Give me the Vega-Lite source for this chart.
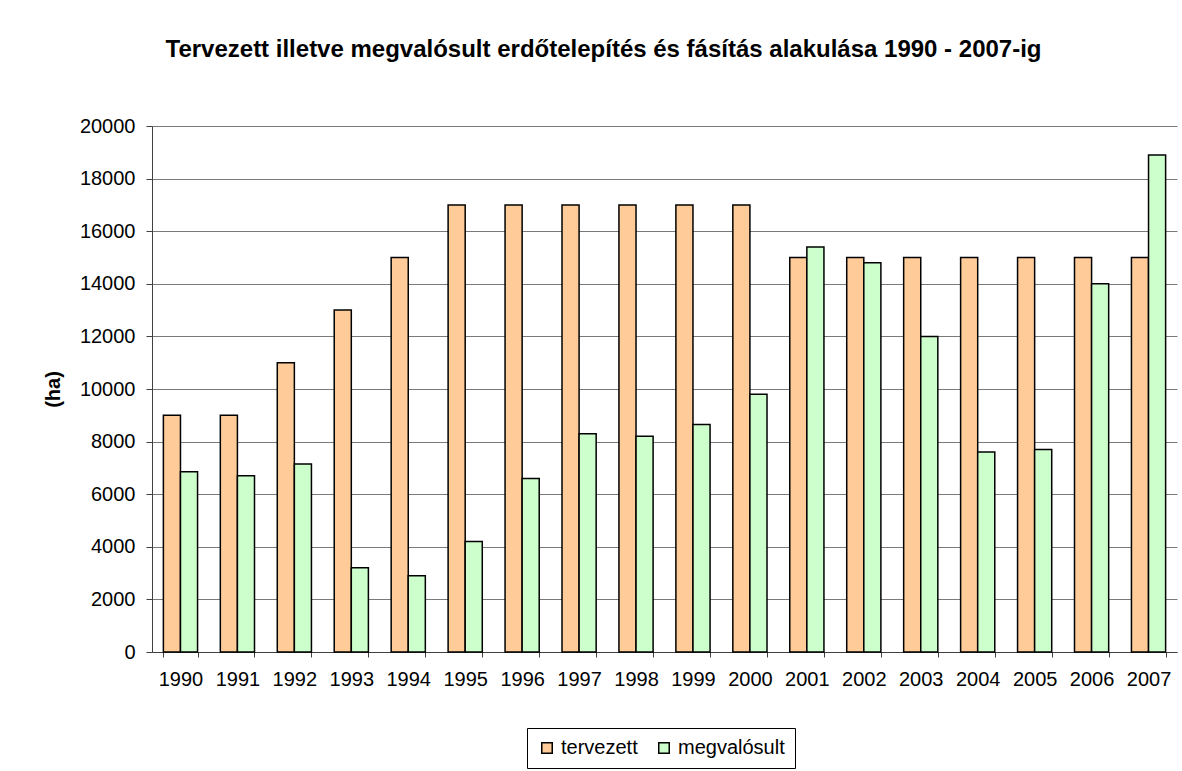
{
  "$schema": "https://vega.github.io/schema/vega-lite/v6.json",
  "width": 1025,
  "height": 526,
  "autosize": {"type": "none"},
  "padding": {"left": 152, "top": 126, "right": 5, "bottom": 119},
  "background": "white",
  "title": {
    "text": "Tervezett illetve megvalósult erdőtelepítés és fásítás alakulása 1990 - 2007-ig",
    "font": "Liberation Sans",
    "fontSize": 24,
    "fontWeight": "bold",
    "color": "black",
    "anchor": "middle",
    "dx": -61,
    "offset": 54
  },
  "data": {
    "values": [
      {"ev": "1990", "sorozat": "tervezett", "ha": 9000},
      {"ev": "1991", "sorozat": "tervezett", "ha": 9000},
      {"ev": "1992", "sorozat": "tervezett", "ha": 11000},
      {"ev": "1993", "sorozat": "tervezett", "ha": 13000},
      {"ev": "1994", "sorozat": "tervezett", "ha": 15000},
      {"ev": "1995", "sorozat": "tervezett", "ha": 17000},
      {"ev": "1996", "sorozat": "tervezett", "ha": 17000},
      {"ev": "1997", "sorozat": "tervezett", "ha": 17000},
      {"ev": "1998", "sorozat": "tervezett", "ha": 17000},
      {"ev": "1999", "sorozat": "tervezett", "ha": 17000},
      {"ev": "2000", "sorozat": "tervezett", "ha": 17000},
      {"ev": "2001", "sorozat": "tervezett", "ha": 15000},
      {"ev": "2002", "sorozat": "tervezett", "ha": 15000},
      {"ev": "2003", "sorozat": "tervezett", "ha": 15000},
      {"ev": "2004", "sorozat": "tervezett", "ha": 15000},
      {"ev": "2005", "sorozat": "tervezett", "ha": 15000},
      {"ev": "2006", "sorozat": "tervezett", "ha": 15000},
      {"ev": "2007", "sorozat": "tervezett", "ha": 15000},
      {"ev": "1990", "sorozat": "megvalósult", "ha": 6850},
      {"ev": "1991", "sorozat": "megvalósult", "ha": 6700},
      {"ev": "1992", "sorozat": "megvalósult", "ha": 7150},
      {"ev": "1993", "sorozat": "megvalósult", "ha": 3200},
      {"ev": "1994", "sorozat": "megvalósult", "ha": 2900},
      {"ev": "1995", "sorozat": "megvalósult", "ha": 4200},
      {"ev": "1996", "sorozat": "megvalósult", "ha": 6600},
      {"ev": "1997", "sorozat": "megvalósult", "ha": 8300},
      {"ev": "1998", "sorozat": "megvalósult", "ha": 8200},
      {"ev": "1999", "sorozat": "megvalósult", "ha": 8650},
      {"ev": "2000", "sorozat": "megvalósult", "ha": 9800},
      {"ev": "2001", "sorozat": "megvalósult", "ha": 15400},
      {"ev": "2002", "sorozat": "megvalósult", "ha": 14800},
      {"ev": "2003", "sorozat": "megvalósult", "ha": 12000},
      {"ev": "2004", "sorozat": "megvalósult", "ha": 7600},
      {"ev": "2005", "sorozat": "megvalósult", "ha": 7700},
      {"ev": "2006", "sorozat": "megvalósult", "ha": 14000},
      {"ev": "2007", "sorozat": "megvalósult", "ha": 18900}
    ]
  },
  "mark": {"type": "bar", "stroke": "black", "strokeWidth": 1.5},
  "encoding": {
    "x": {
      "field": "ev",
      "type": "nominal",
      "scale": {"paddingInner": 0.4, "paddingOuter": 0.2},
      "axis": {
        "title": null,
        "labelAngle": 0,
        "labelFont": "Liberation Sans",
        "labelFontSize": 20,
        "labelColor": "black",
        "labelPadding": 12,
        "tickBand": "extent",
        "tickColor": "#404040",
        "tickSize": 5,
        "domainColor": "#404040",
        "grid": false
      }
    },
    "xOffset": {"field": "sorozat", "type": "nominal", "sort": ["tervezett", "megvalósult"]},
    "y": {
      "field": "ha",
      "type": "quantitative",
      "scale": {"domain": [0, 20000], "nice": false},
      "axis": {
        "title": "(ha)",
        "titleFont": "Liberation Sans",
        "titleFontSize": 20,
        "titleFontWeight": "bold",
        "titleColor": "black",
        "titlePadding": 16,
        "values": [0, 2000, 4000, 6000, 8000, 10000, 12000, 14000, 16000, 18000, 20000],
        "format": "d",
        "labelFont": "Liberation Sans",
        "labelFontSize": 20,
        "labelColor": "black",
        "labelPadding": 11,
        "tickColor": "#404040",
        "tickSize": 6,
        "domainColor": "#404040",
        "grid": true,
        "gridColor": "#7a7a7a",
        "gridWidth": 1
      }
    },
    "color": {
      "field": "sorozat",
      "type": "nominal",
      "scale": {"domain": ["tervezett", "megvalósult"], "range": ["#FFCC99", "#CCFFCC"]},
      "legend": {
        "title": null,
        "orient": "none",
        "legendX": 375,
        "legendY": 602,
        "direction": "horizontal",
        "symbolType": "square",
        "symbolSize": 110,
        "symbolStrokeColor": "black",
        "symbolStrokeWidth": 1.5,
        "labelFont": "Liberation Sans",
        "labelFontSize": 20,
        "labelColor": "black",
        "strokeColor": "black",
        "padding": 10,
        "columnPadding": 16
      }
    }
  },
  "config": {"view": {"stroke": null}}
}
